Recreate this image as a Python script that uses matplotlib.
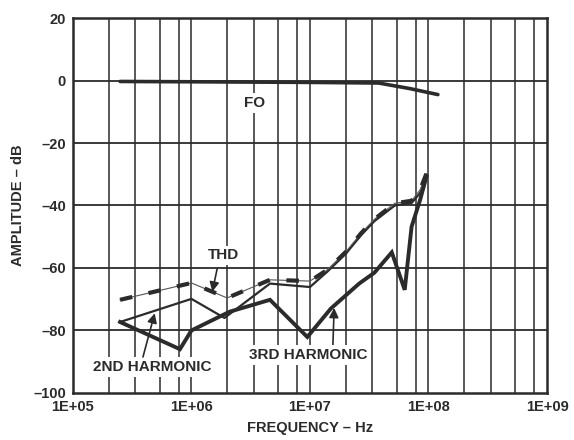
import numpy as np
import matplotlib
matplotlib.use("Agg")
import matplotlib.pyplot as plt

plt.rcParams['font.family'] = ['Liberation Sans', 'DejaVu Sans']
plt.rcParams['font.weight'] = 'bold'
plt.rcParams['axes.labelweight'] = 'bold'

# values
fo_freq = [2.5e5, 1e6, 1e7, 3.8e7, 7e7, 1.2e8]
fo_db = [-0.3, -0.4, -0.6, -0.8, -2.6, -4.5]

thd_freq = [2.5e5, 1e6, 2e6, 4.6e6, 1e7, 1.4e7, 2e7, 2.7e7, 3.5e7, 5.2e7, 7.2e7, 8.5e7, 9.6e7]
thd_db = [-70.2, -64.8, -69.6, -63.8, -64.2, -60.6, -54.9, -48.9, -44.4, -39.3, -38.5, -35.0, -29.8]

h2_freq = [2.5e5, 1e6, 1.9e6, 4.6e6, 1e7, 1.4e7, 2e7, 2.7e7, 3.5e7, 5.2e7, 7.2e7, 8.5e7, 9.6e7]
h2_db = [-77.3, -69.9, -76.0, -65.0, -66.1, -61.2, -55.5, -49.5, -45.0, -40.0, -39.2, -36.0, -31.0]

h3_freq = [2.5e5, 8e5, 1e6, 2.1e6, 4.6e6, 9.5e6, 1.5e7, 2.6e7, 3.5e7, 4.9e7, 6.3e7, 7.2e7, 8.5e7, 9.6e7]
h3_db = [-77.3, -86.0, -80.0, -74.0, -70.2, -82.1, -73.0, -65.0, -61.5, -55.0, -67.0, -46.8, -38.2, -30.8]

y_ticks = [20, 0, -20, -40, -60, -80, -100]
x_ticks = [1e5, 1e6, 1e7, 1e8, 1e9]
x_labels = ['1E+05', '1E+06', '1E+07', '1E+08', '1E+09']

ink = '#2b2b2b'

fig = plt.figure(figsize=(5.74, 4.40), dpi=100)
ax = fig.add_axes([0.127, 0.107, 0.826, 0.852])

ax.set_xscale('log')
ax.set_xlim(1e5, 1e9)
ax.set_ylim(-100, 20)

# grid: decades plus the odd minor lines of the original
minor = [d * m for d in [1e5, 1e6, 1e7, 1e8] for m in [2.0, 3.35, 5.4, 7.8]]
for x in x_ticks[1:-1] + minor:
    ax.axvline(x, color=ink, lw=1.1, zorder=1)
for y in y_ticks[1:-1]:
    ax.axhline(y, color=ink, lw=1.3, zorder=1)

ax.plot(fo_freq, fo_db, color=ink, lw=2.6, zorder=4, solid_capstyle='round')
ax.plot(h3_freq, h3_db, color=ink, lw=2.8, zorder=4, solid_joinstyle='miter')
ax.plot(h2_freq, h2_db, color=ink, lw=1.6, zorder=4)
ax.plot(thd_freq, thd_db, color='#555555', lw=0.8, zorder=5)
ax.plot(thd_freq, thd_db, color=ink, lw=3.0, zorder=5, dashes=(3, 4))

ax.set_xticks(x_ticks)
ax.set_xticklabels(x_labels)
ax.set_yticks(y_ticks)
ax.set_yticklabels(['20', '0', '–20', '–40', '–60', '–80', '–100'])
ax.minorticks_off()
ax.tick_params(length=0, labelsize=10.5, colors=ink, pad=5)
for s in ax.spines.values():
    s.set_linewidth(1.8)
    s.set_color(ink)

ax.set_xlabel('FREQUENCY – Hz', fontsize=10.5, color=ink, labelpad=5)
ax.set_ylabel('AMPLITUDE – dB', fontsize=10.5, color=ink, labelpad=6)

box = dict(facecolor='white', edgecolor='none', pad=2)
arrow = dict(arrowstyle='-|>', color=ink, lw=1.2, mutation_scale=14, shrinkA=0, shrinkB=0)

ax.text(3.4e6, -7.2, 'FO', fontsize=11, color=ink, ha='center', va='center', bbox=box, zorder=6)
ax.text(1.85e6, -56.0, 'THD', fontsize=11, color=ink, ha='center', va='center', bbox=box, zorder=6)
ax.annotate('', xy=(1.5e6, -67.6), xytext=(1.65e6, -60.2), arrowprops=arrow, zorder=6)
ax.text(4.65e5, -91.7, '2ND HARMONIC', fontsize=11, color=ink, ha='center', va='center', bbox=box, zorder=6)
ax.annotate('', xy=(4.9e5, -74.5), xytext=(3.9e5, -88.5), arrowprops=arrow, zorder=6)
ax.text(9.6e6, -87.8, '3RD HARMONIC', fontsize=11, color=ink, ha='center', va='center', bbox=box, zorder=6)
ax.annotate('', xy=(1.6e7, -72.8), xytext=(1.56e7, -85.0), arrowprops=arrow, zorder=5)

fig.savefig('out.png', dpi=100)
